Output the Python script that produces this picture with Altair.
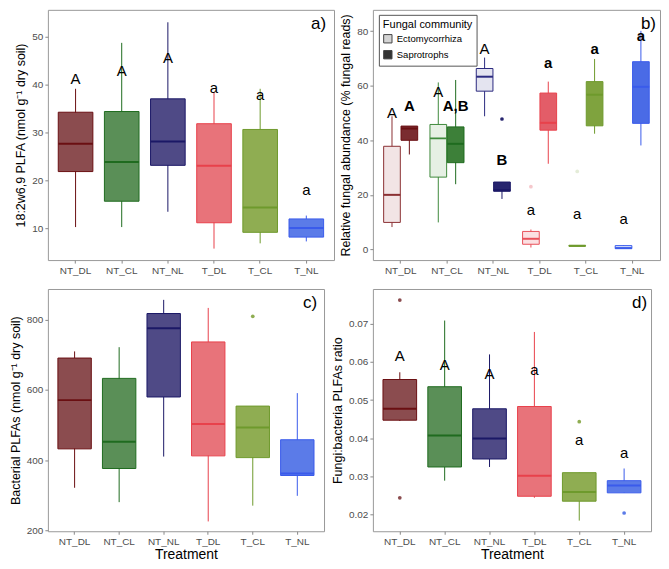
import altair as alt
import pandas as pd

FONT = "Liberation Sans"

treat = ["NT_DL", "NT_CL", "NT_NL", "T_DL", "T_CL", "T_NL"]
groups = ["Ectomycorrhiza", "Saprotrophs"]

fill_col = ["#8B4C4F", "#5A8F57", "#4F4A86", "#E8737A", "#8FAD52", "#5B7BE8"]
line_col = ["#6A0F12", "#1F6B1F", "#1B1866", "#E8414B", "#6E9A2C", "#3A5BEB"]

# ---- panel a: 18:2w6,9 PLFA
a_lo = [10.2, 10.2, 13.4, 5.7, 6.8, 7.2]
a_q1 = [21.8, 15.6, 23.1, 11.1, 9.1, 8.1]
a_med = [27.6, 23.8, 28.1, 23.0, 14.3, 10.0]
a_q3 = [34.2, 34.35, 37.0, 31.8, 30.6, 11.9]
a_hi = [39.1, 48.7, 53.0, 38.4, 39.1, 12.6]
a_let = ["A", "A", "A", "a", "a", "a"]
a_let_y = [40.2, 41.8, 44.5, 38.2, 36.7, 16.9]

# ---- panel b: relative fungal abundance (Ecto / Sapro)
be_lo = [8.2, 9.9, 48.8, 0.7, 1.3, 0.2]
be_q1 = [9.9, 26.5, 58.0, 1.9, 1.2, 0.3]
be_med = [20.0, 40.7, 63.3, 3.9, 1.3, 0.5]
be_q3 = [37.8, 45.8, 66.3, 6.6, 1.5, 1.4]
be_hi = [48.8, 61.2, 70.3, 7.3, 1.5, 1.5]
be_fill = ["#F2E4E5", "#E6F0E4", "#E4E4F0", "#FBE0E2", "#EEF3E4", "#DCE4FB"]
be_line = ["#8B3033", "#3F8A3C", "#2B2A80", "#E8505A", "#6E9A2C", "#3A5BEB"]
be_let = ["A", "A", "A", "a", "a", "a"]
be_let_y = [48.2, 55.9, 71.8, 12.7, 11.1, 9.5]
be_out_t = ["T_DL", "T_CL"]
be_out_v = [23.0, 28.6]
be_out_c = ["#F5C8CC", "#E4ECD8"]

bs_lo = [34.8, 23.9, 18.5, 31.4, 42.4, 38.1]
bs_q1 = [40.0, 31.8, 21.3, 43.7, 45.3, 46.2]
bs_med = [44.3, 38.7, 21.8, 46.4, 56.7, 59.6]
bs_q3 = [45.2, 44.9, 24.7, 57.3, 61.5, 68.8]
bs_hi = [45.2, 62.1, 24.7, 61.5, 69.8, 80.1]
bs_fill = ["#7A2C30", "#3D8039", "#26246E", "#E35D68", "#7FA33E", "#4A6BE6"]
bs_line = ["#6A0F12", "#1F6B1F", "#1B1866", "#E8414B", "#6E9A2C", "#3A5BEB"]
bs_let = ["A", "A,B", "B", "a", "a", "a"]
bs_let_y = [50.9, 50.9, 30.8, 66.5, 71.8, 76.2]
bs_out_t = ["NT_DL", "NT_NL"]
bs_out_v = [68.0, 47.8]
bs_out_c = ["#7A2C30", "#26246E"]

# ---- panel c: bacterial PLFAs
c_lo = [321, 280, 410, 225, 270, 298]
c_q1 = [432, 376, 580, 412, 407, 356]
c_med = [571, 452, 776, 503, 493, 362]
c_q3 = [691, 633, 818, 737, 554, 458]
c_hi = [710, 722, 857, 834, 554, 591]
c_out_t = ["T_CL"]
c_out_v = [810]
c_out_c = ["#8FAD52"]

# ---- panel d: fungi:bacteria ratio
d_lo = [0.0445, 0.0288, 0.0324, 0.0243, 0.0183, 0.0256]
d_q1 = [0.0447, 0.0324, 0.0345, 0.0247, 0.0234, 0.0256]
d_med = [0.0477, 0.0407, 0.0399, 0.0301, 0.0258, 0.0275]
d_q3 = [0.0554, 0.0535, 0.0477, 0.0483, 0.0309, 0.0288]
d_hi = [0.0573, 0.0709, 0.0620, 0.0679, 0.0309, 0.0320]
d_let = ["A", "A", "A", "a", "a", "a"]
d_let_y = [0.0603, 0.0579, 0.0556, 0.0567, 0.0382, 0.0348]
d_out_t = ["NT_DL", "NT_DL", "T_CL", "T_NL"]
d_out_v = [0.0763, 0.0243, 0.0443, 0.0203]
d_out_c = ["#8B4C4F", "#8B4C4F", "#8FAD52", "#5B7BE8"]


def box_frame(lo, q1, med, q3, hi, fill, line, group=None):
    df = pd.DataFrame({"treatment": treat, "lo": lo, "q1": q1, "med": med,
                       "q3": q3, "hi": hi, "fill": fill, "line": line})
    if group is not None:
        df["group"] = group
    return df


def xenc(title):
    return alt.X("treatment:N", sort=treat,
                 scale=alt.Scale(domain=treat, paddingInner=0, paddingOuter=0.1),
                 axis=alt.Axis(title=title, labelAngle=0))


def yenc(field, title, dom, ticks, fmt):
    return alt.Y(f"{field}:Q", scale=alt.Scale(domain=dom, nice=False, zero=False),
                 axis=alt.Axis(title=title, values=ticks, format=fmt))


def xoff():
    return alt.XOffset("group:N", sort=groups,
                       scale=alt.Scale(domain=groups, paddingInner=0, paddingOuter=1 / 3))


def panel(box_df, out_df, let_dfs, width, height, ytitle, dom, ticks, fmt,
          xtitle, tag, tag_dx, dodge=False, legend=None):
    step = width / 6.2
    bw = (0.36 if dodge else 0.75) * step
    X = xenc(xtitle)
    ex = {"xOffset": xoff()} if dodge else {}

    def Y(f):
        return yenc(f, ytitle, dom, ticks, fmt)

    base = alt.Chart(box_df)
    layers = [
        base.mark_rule(strokeWidth=1).encode(
            x=X, y=Y("lo"), y2="hi:Q", color=alt.Color("line:N", scale=None), **ex),
        base.mark_bar(size=bw, strokeWidth=1).encode(
            x=X, y=Y("q1"), y2="q3:Q", fill=alt.Fill("fill:N", scale=None),
            stroke=alt.Stroke("line:N", scale=None), **ex),
        base.mark_tick(size=bw, thickness=2, opacity=1).encode(
            x=X, y=Y("med"), color=alt.Color("line:N", scale=None), **ex),
    ]
    if out_df is not None and len(out_df):
        layers.append(alt.Chart(out_df).mark_circle(size=14, opacity=1).encode(
            x=X, y=Y("val"), color=alt.Color("col:N", scale=None), **ex))
    for ldf, weight in let_dfs:
        layers.append(alt.Chart(ldf).mark_text(
            fontSize=15, font=FONT, fontWeight=weight, baseline="alphabetic",
            align="center", color="black").encode(
            x=X, y=Y("ly"), text="letter:N", **ex))
    if legend is not None:
        lx, ly = legend
        layers.append(base.mark_square(size=0, opacity=1).encode(
            x=X, y=Y("med"), **ex,
            color=alt.Color("group:N",
                            scale=alt.Scale(domain=groups, range=["#D4D4D4", "#333333"]),
                            legend=alt.Legend(
                                title="Fungal community", orient="none",
                                legendX=lx, legendY=ly, symbolType="square",
                                symbolSize=70, symbolStrokeColor="#444444",
                                symbolStrokeWidth=1, fillColor="white",
                                strokeColor="#555555", padding=4,
                                titleFontSize=11, titleFontWeight="normal",
                                titleColor="black", titleFont=FONT,
                                labelFontSize=9.5, labelColor="black",
                                labelFont=FONT, rowPadding=2, titlePadding=4))))
    tagdf = pd.DataFrame({"t": [tag]})
    layers.append(alt.Chart(tagdf).mark_text(
        align="right", baseline="alphabetic", fontSize=17, font=FONT,
        color="black").encode(text="t:N", x=alt.value(width - tag_dx), y=alt.value(19)))
    return alt.layer(*layers).properties(width=width, height=height)


def let_frame(letters, ys, group=None):
    df = pd.DataFrame({"treatment": treat, "letter": letters, "ly": ys})
    if group is not None:
        df["group"] = group
    return df


def out_frame(ts, vs, cs, group=None):
    df = pd.DataFrame({"treatment": ts, "val": vs, "col": cs})
    if group is not None:
        df["group"] = group
    return df


# panel a
pa = panel(box_frame(a_lo, a_q1, a_med, a_q3, a_hi, fill_col, line_col), None,
           [(let_frame(a_let, a_let_y), "normal")], 287, 251,
           "18:2w6,9 PLFA (nmol g⁻¹ dry soil)", [3.3, 55.6], [10, 20, 30, 40, 50], "d",
           None, "a)", 8)

# panel b
b_box = pd.concat([box_frame(be_lo, be_q1, be_med, be_q3, be_hi, be_fill, be_line, groups[0]),
                   box_frame(bs_lo, bs_q1, bs_med, bs_q3, bs_hi, bs_fill, bs_line, groups[1])],
                  ignore_index=True)
b_out = pd.concat([out_frame(be_out_t, be_out_v, be_out_c, groups[0]),
                   out_frame(bs_out_t, bs_out_v, bs_out_c, groups[1])], ignore_index=True)
pb = panel(b_box, b_out,
           [(let_frame(be_let, be_let_y, groups[0]), "normal"),
            (let_frame(bs_let, bs_let_y, groups[1]), "bold")],
           288, 251, "Relative fungal abundance (% fungal reads)", [-3.9, 87.8],
           [0, 20, 40, 60, 80], "d", None, "b)", 4, dodge=True, legend=(332, 5))

# panel c
pc = panel(box_frame(c_lo, c_q1, c_med, c_q3, c_hi, fill_col, line_col),
           out_frame(c_out_t, c_out_v, c_out_c), [], 277, 243,
           "Bacterial PLFAs (nmol g⁻¹ dry soil)", [197, 888], [200, 400, 600, 800], "d",
           "Treatment", "c)", 7)

# panel d
pd_ = panel(box_frame(d_lo, d_q1, d_med, d_q3, d_hi, fill_col, line_col),
            out_frame(d_out_t, d_out_v, d_out_c), [(let_frame(d_let, d_let_y), "normal")],
            279, 243, "Fungi:bacteria PLFAs ratio", [0.0155, 0.0792],
            [0.02, 0.03, 0.04, 0.05, 0.06, 0.07], ".2f", "Treatment", "d)", 4)

top = alt.hconcat(pa, pb, spacing=4)
bottom = alt.hconcat(pc, pd_, spacing=6)

chart = alt.vconcat(top, bottom, spacing=12, padding=0).configure(
    font=FONT, padding=0
).configure_view(
    stroke="#999999", strokeWidth=1
).configure_axis(
    domain=False, grid=False, tickColor="#888888", tickSize=3, labelPadding=2,
    labelFontSize=10, labelColor="#4d4d4d", labelFont=FONT,
    titleFontSize=12.5, titleFontWeight="normal", titleColor="black", titleFont=FONT
).configure_axisY(titlePadding=4).configure_axisX(titlePadding=1, titleFontSize=14)

chart.save("out.html", embed_options={"renderer": "svg", "actions": False})
